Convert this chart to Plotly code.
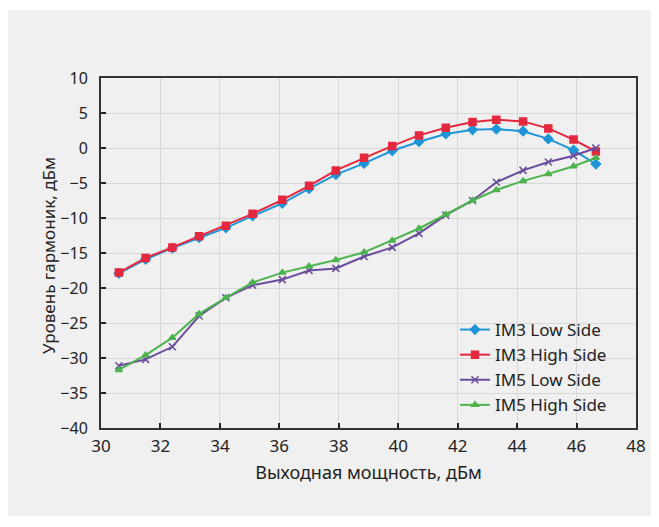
import plotly.graph_objects as go

x_dbm = [30.6, 31.5, 32.4, 33.3, 34.2, 35.1, 36.1, 37.0, 37.9, 38.85, 39.8, 40.7, 41.6, 42.5, 43.3, 44.2, 45.05, 45.9, 46.65]
im3_low = [-17.9, -15.9, -14.3, -12.8, -11.4, -9.7, -7.9, -5.8, -3.8, -2.2, -0.4, 0.9, 2.0, 2.6, 2.7, 2.4, 1.3, -0.3, -2.3]
im3_high = [-17.8, -15.7, -14.2, -12.6, -11.1, -9.4, -7.4, -5.4, -3.2, -1.4, 0.3, 1.8, 2.9, 3.7, 4.05, 3.8, 2.8, 1.2, -0.5]
im5_low = [-31.1, -30.2, -28.4, -24.0, -21.4, -19.6, -18.8, -17.5, -17.2, -15.5, -14.2, -12.2, -9.6, -7.5, -4.9, -3.2, -2.0, -1.1, 0.0]
im5_high = [-31.7, -29.6, -27.1, -23.7, -21.4, -19.2, -17.8, -16.9, -16.0, -14.9, -13.2, -11.5, -9.5, -7.5, -6.0, -4.7, -3.7, -2.6, -1.4]

names = ["IM3 Low Side", "IM3 High Side", "IM5 Low Side", "IM5 High Side"]
series = [im3_low, im3_high, im5_low, im5_high]
colors = ["#1e95d8", "#e5283f", "#6a4c9e", "#4cb34f"]
symbols = ["diamond", "square", "x-thin-open", "triangle-up"]
sizes = [7, 7, 7, 6]

x_ticks = [30, 32, 34, 36, 38, 40, 42, 44, 46, 48]
y_ticks = [-40, -35, -30, -25, -20, -15, -10, -5, 0, 5, 10]

x_title = "Выходная мощность, дБм"
y_title = "Уровень гармоник, дБм"

FONT = "Noto Sans"
BG = "#f0f0f0"
TXT = "#222222"

fig = go.Figure()
for n, s, c, sym, sz in zip(names, series, colors, symbols, sizes):
    fig.add_trace(go.Scatter(
        x=x_dbm, y=s, name=n, mode="lines+markers",
        line=dict(color=c, width=2),
        marker=dict(symbol=sym, size=sz, color=c, line=dict(color=c, width=1.5)),
    ))

# page is offset by the 8px body margin
OFF = 8
W, H = 651, 519
L, R, T, B = 93, 23, 70, 99
pw, ph = W - L - R, H - T - B

def px_x(p):
    return (p - OFF - L) / pw

def px_y(p):
    return (H - B - (p - OFF)) / ph

fig.add_shape(type="rect", xref="paper", yref="paper",
              x0=px_x(7), x1=px_x(652), y0=px_y(516), y1=px_y(10),
              fillcolor=BG, line=dict(width=0), layer="below")

axis_common = dict(
    showline=True, linecolor="#333333", linewidth=2, mirror=True,
    showgrid=True, gridcolor="#d8d8d8", gridwidth=1,
    ticks="inside", ticklen=5, tickwidth=1.5, tickcolor=TXT,
    zeroline=False,
)

fig.update_xaxes(range=[30, 48], tickvals=x_ticks,
                 ticktext=[str(v) for v in x_ticks],
                 ticklabelstandoff=2,
                 tickfont=dict(family=FONT, size=17, color=TXT),
                 title=dict(text=x_title, font=dict(family=FONT, size=18, color=TXT), standoff=10),
                 **axis_common)
fig.update_yaxes(range=[-40, 10], tickvals=y_ticks,
                 ticktext=[("\u2212" + str(-v)) if v < 0 else str(v) for v in y_ticks],
                 ticklabelstandoff=8,
                 tickfont=dict(family=FONT, size=16, color=TXT),
                 **axis_common)

fig.add_annotation(text=y_title, textangle=-90, xref="paper", yref="paper",
                   x=px_x(48), y=px_y(256), xanchor="center", yanchor="middle",
                   showarrow=False, font=dict(family=FONT, size=17, color=TXT))

fig.update_layout(
    width=W, height=H,
    margin=dict(l=L, r=R, t=T, b=B, pad=0),
    paper_bgcolor="white", plot_bgcolor=BG,
    font=dict(family=FONT, size=17, color=TXT),
    legend=dict(x=px_x(455), y=px_y(312), xanchor="left", yanchor="top",
                bgcolor="rgba(0,0,0,0)", font=dict(family=FONT, size=17, color=TXT),
                itemwidth=30, tracegroupgap=0),
    showlegend=True,
)

fig.write_html("out.html")
